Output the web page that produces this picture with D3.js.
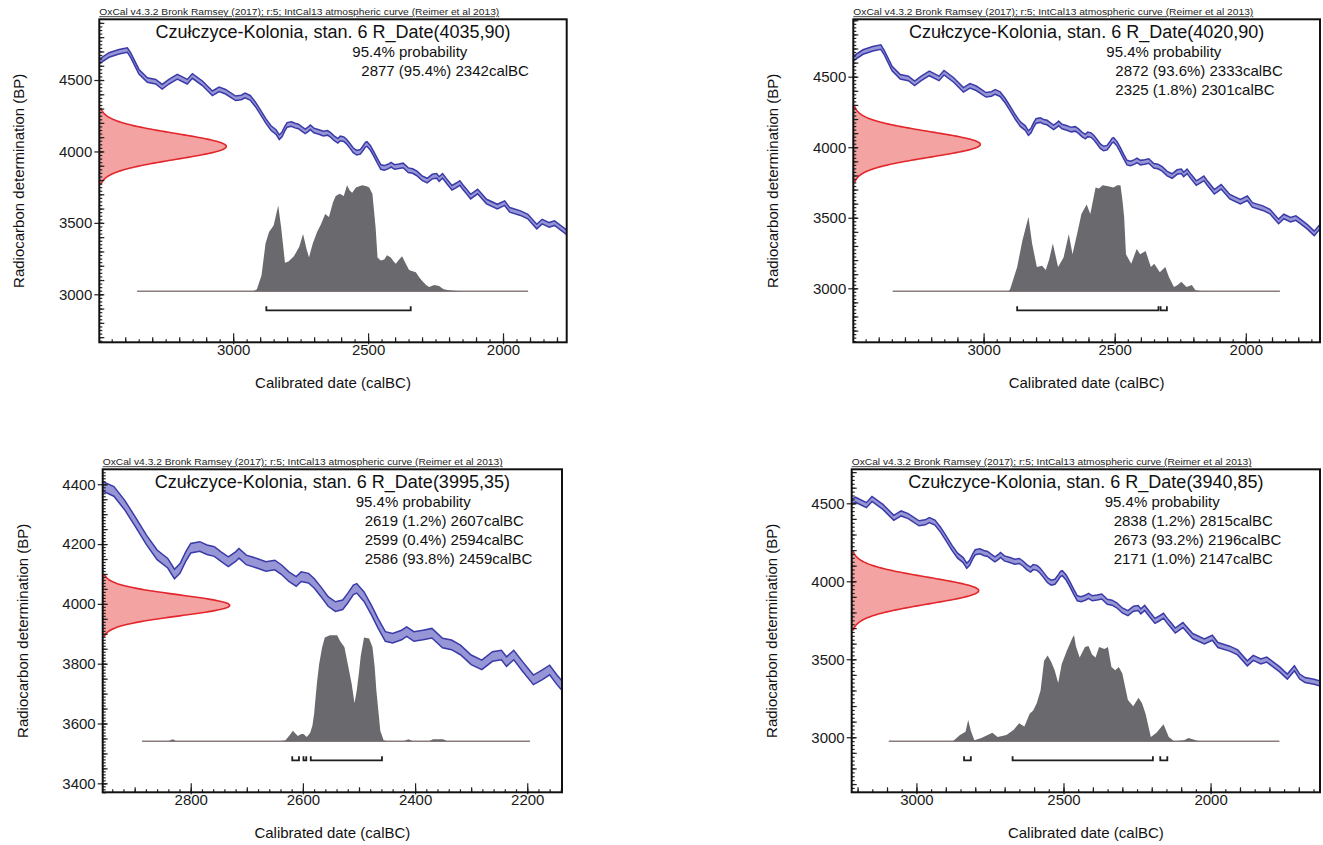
<!DOCTYPE html>
<html><head><meta charset="utf-8">
<script src="https://cdn.jsdelivr.net/npm/d3@7"></script>
<style>
body{margin:0;background:#fff;}
svg{display:block;font-family:"Liberation Sans",Arial,Helvetica,sans-serif;}
</style></head><body>
<svg id="chart" width="1323" height="845"></svg>
<script>
// ---------- DATA ----------
// IntCal13 calibration curve (calBC, BP)
const curveCalBC = [3500,3460,3423,3392,3380,3349,3318,3287,3263,3238,3207,3170,3151,3114,3077,3052,3028,2991,2970,2956,2937,2918,2899,2879,2860,2841,2829,2819,2809,2800,2784,2771,2758,2746,2733,2720,2714,2701,2682,2666,2650,2638,2625,2612,2603,2590,2580,2568,2555,2542,2529,2520,2510,2504,2491,2478,2466,2453,2440,2424,2415,2402,2386,2370,2351,2335,2319,2300,2281,2262,2246,2237,2224,2208,2189,2173,2160,2147,2135,2120,2094,2061,2021,1994,1975,1935,1908,1875,1855,1829,1809,1792,1765,1739,1715,1697,1679,1648,1620];
const curveBP    = [4625,4675,4698,4710,4675,4558,4500,4488,4453,4488,4523,4488,4528,4477,4407,4435,4418,4372,4378,4392,4376,4331,4275,4214,4164,4136,4100,4119,4158,4186,4192,4181,4175,4158,4141,4158,4169,4147,4136,4125,4130,4114,4091,4075,4091,4086,4069,4041,4008,3991,3997,4019,4047,4052,4024,3980,3935,3891,3885,3896,3907,3891,3896,3902,3869,3863,3846,3813,3796,3824,3829,3807,3829,3790,3746,3763,3779,3746,3720,3684,3719,3649,3614,3638,3591,3568,3544,3474,3509,3486,3498,3474,3435,3389,3442,3389,3367,3356,3340];
const curveSigma = 16;

// R_Date measurements
const rDateMean  = [4035, 4020, 3995, 3940];
const rDateSigma = [90, 90, 35, 85];

// Calibrated probability distributions (calBC, relative probability)
const hist1Year = [2925,2912,2895,2880,2867,2850,2833,2822,2808,2795,2775,2755,2741,2728,2719,2705,2689,2675,2659,2645,2630,2620,2605,2590,2578,2568,2559,2545,2522,2505,2496,2484,2472,2465,2453,2440,2430,2416,2405,2397,2385,2374,2362,2348,2335,2323,2310,2300,2285,2274,2255,2237,2220,2200,2180,2150];
const hist1Prob = [0,0.02,0.15,0.45,0.56,0.62,0.81,0.6,0.27,0.28,0.33,0.42,0.54,0.40,0.32,0.45,0.56,0.63,0.73,0.70,0.84,0.90,0.92,0.90,1.0,0.95,0.93,0.98,1.0,0.99,0.98,0.92,0.60,0.32,0.29,0.30,0.34,0.32,0.28,0.26,0.30,0.33,0.27,0.20,0.19,0.18,0.13,0.10,0.06,0.04,0.06,0.05,0.02,0.01,0.005,0];
const hist2Year = [2905,2899,2872,2852,2829,2815,2797,2777,2763,2750,2736,2716,2695,2675,2661,2641,2627,2607,2593,2573,2560,2546,2525,2505,2490,2478,2470,2464,2457,2437,2416,2403,2382,2362,2349,2328,2307,2294,2274,2260,2246,2226,2206,2192,2165];
const hist2Prob = [0,0.02,0.23,0.48,0.70,0.45,0.23,0.24,0.20,0.30,0.45,0.23,0.32,0.54,0.35,0.57,0.73,0.82,0.73,0.98,0.97,1.0,0.99,0.98,1.0,1.0,0.85,0.70,0.35,0.26,0.40,0.35,0.38,0.23,0.26,0.18,0.23,0.14,0.04,0.06,0.09,0.04,0.06,0.01,0];
const hist3Year = [2840,2832,2826,2640,2631,2622,2618,2609,2603,2599,2593,2587,2583,2580,2575,2571,2566,2561,2552,2545,2539,2533,2526,2520,2513,2508,2504,2500,2497,2491,2482,2476,2472,2469,2462,2456,2450,2420,2412,2404,2375,2368,2350,2343];
const hist3Prob = [0,0.02,0,0,0.01,0.07,0.10,0.05,0.07,0.07,0.04,0.08,0.15,0.26,0.55,0.73,0.88,0.98,1.0,1.0,1.0,0.94,0.89,0.73,0.54,0.36,0.48,0.65,0.80,0.98,0.97,0.89,0.70,0.48,0.10,0.01,0,0,0.02,0,0,0.02,0.02,0];
const hist4Year = [2876,2852,2833,2824,2815,2803,2779,2742,2724,2694,2669,2651,2633,2615,2603,2591,2578,2566,2554,2542,2530,2518,2506,2488,2469,2464,2458,2445,2427,2415,2403,2391,2379,2361,2349,2337,2324,2312,2300,2281,2263,2245,2233,2221,2203,2184,2160,2142,2124,2090,2075,2050,2039];
const hist4Prob = [0,0.06,0.09,0.2,0.1,0.01,0.03,0.08,0.04,0.06,0.11,0.17,0.14,0.26,0.29,0.36,0.48,0.76,0.81,0.75,0.67,0.55,0.73,0.86,0.98,1.0,0.90,0.79,0.89,0.90,0.82,0.79,0.89,0.87,0.89,0.70,0.67,0.70,0.64,0.39,0.33,0.41,0.36,0.26,0.04,0.08,0.16,0.04,0,0.01,0.03,0.01,0];
// extent of the calibrated distribution baseline (calBC)
const histBaseFrom = [3356, 3347, 2887, 3094];
const histBaseTo   = [1907, 1870, 2195, 1766];

// 95.4% ranges
const range1From = [2877], range1To = [2342], range1Pct = ["95.4%"];
const range2From = [2872, 2325], range2To = [2333, 2301], range2Pct = ["93.6%", "1.8%"];
const range3From = [2619, 2599, 2586], range3To = [2607, 2594, 2459], range3Pct = ["1.2%", "0.4%", "93.8%"];
const range4From = [2838, 2673, 2171], range4To = [2815, 2196, 2147], range4Pct = ["1.2%", "93.2%", "1.0%"];

// axis ticks
const yTicksA = [3000, 3500, 4000, 4500];
const xTicksA = [3000, 2500, 2000];
const yTicks3 = [3400, 3600, 3800, 4000, 4200, 4400];
const xTicks3 = [2800, 2600, 2400, 2200];

const siteName = "Czułczyce-Kolonia, stan. 6";
const oxcalNote = "OxCal v4.3.2 Bronk Ramsey (2017); r:5; IntCal13 atmospheric curve (Reimer et al 2013)";

// ---------- LAYOUT ----------
const panels = [
  {frame:[99.3,19.3,566.7,342.3], xd:[3496,1764], yd:[2664,4925], xt:xTicksA, yt:yTicksA, xMin:[50,100], yMin:[25,100],
   hy:hist1Year, hp:hist1Prob, rf:range1From, rt:range1To, rp:range1Pct},
  {frame:[853.3,19.3,1320,342.3], xd:[3497,1717], yd:[2617,4907], xt:xTicksA, yt:yTicksA, xMin:[50,100], yMin:[25,100],
   hy:hist2Year, hp:hist2Prob, rf:range2From, rt:range2To, rp:range2Pct},
  {frame:[102.7,469.3,562,792.3], xd:[2957,2138], yd:[3370,4450], xt:xTicks3, yt:yTicks3, xMin:[20,100], yMin:[10,50],
   hy:hist3Year, hp:hist3Prob, rf:range3From, rt:range3To, rp:range3Pct},
  {frame:[851.7,469.3,1320,792.3], xd:[3220,1628], yd:[2647,4718], xt:xTicksA, yt:yTicksA, xMin:[50,100], yMin:[25,100],
   hy:hist4Year, hp:hist4Prob, rf:range4From, rt:range4To, rp:range4Pct}
];

const svg = d3.select("#chart");
const defs = svg.append("defs");

panels.forEach((p, pi) => {
  const [L, T, R, B] = p.frame;
  const x = d3.scaleLinear().domain(p.xd).range([L, R]);
  const y = d3.scaleLinear().domain(p.yd).range([B, T]);
  const g = svg.append("g");
  defs.append("clipPath").attr("id", "clip" + pi)
    .append("rect").attr("x", L).attr("y", T).attr("width", R - L).attr("height", B - T);
  const plot = g.append("g").attr("clip-path", `url(#clip${pi})`);

  // calibration curve band
  const idx = d3.range(curveCalBC.length);
  plot.append("path").datum(idx)
    .attr("d", d3.area().x(i => x(curveCalBC[i])).y0(i => y(curveBP[i] - curveSigma)).y1(i => y(curveBP[i] + curveSigma)))
    .attr("fill", "#9696d6");
  [1, -1].forEach(s => {
    plot.append("path").datum(idx)
      .attr("d", d3.line().x(i => x(curveCalBC[i])).y(i => y(curveBP[i] + s * curveSigma)))
      .attr("fill", "none").attr("stroke", "#3a3aa8").attr("stroke-width", 1.5);
  });

  // radiocarbon date (normal likelihood)
  const mu = rDateMean[pi], sd = rDateSigma[pi];
  const zs = d3.range(-3, 3.0001, 0.05);
  const w = d3.scaleLinear().domain([0, 1]).range([L, L + 127]);
  const redPts = zs.map(z => [w(Math.exp(-0.5 * z * z)), y(mu + z * sd)]);
  const redPath = "M" + w(0) + "," + y(mu - 3 * sd) + "L" + redPts.map(d => d.join(",")).join("L") + "L" + w(0) + "," + y(mu + 3 * sd) + "Z";
  plot.append("path").attr("d", redPath).attr("fill", "#f4a3a3").attr("stroke", "none");
  plot.append("path").attr("d", "M" + redPts.map(d => d.join(",")).join("L"))
    .attr("fill", "none").attr("stroke", "#e3262b").attr("stroke-width", 1.6);

  // calibrated distribution
  const yb = B - 51;
  const hs = d3.scaleLinear().domain([0, 1]).range([yb, yb - 106]);
  plot.append("line").attr("x1", x(histBaseFrom[pi])).attr("x2", x(histBaseTo[pi]))
    .attr("y1", yb).attr("y2", yb).attr("stroke", "#8a7c7a").attr("stroke-width", 1.6);
  plot.append("path").datum(d3.range(p.hy.length))
    .attr("d", d3.area().x(i => x(p.hy[i])).y0(yb).y1(i => hs(p.hp[i])))
    .attr("fill", "#6a6a6e");

  // range brackets
  const yBr = B - 32;
  p.rf.forEach((f, i) => {
    plot.append("path")
      .attr("d", `M${x(f)},${yBr - 4}V${yBr}H${x(p.rt[i])}V${yBr - 4}`)
      .attr("fill", "none").attr("stroke", "#1e1e1e").attr("stroke-width", 1.8);
  });

  // axes - minor ticks
  const ext = y.domain(), xext = x.domain();
  const yMinor = d3.range(Math.ceil(ext[0] / p.yMin[0]) * p.yMin[0], ext[1], p.yMin[0]);
  const yMid = yMinor.filter(v => v % p.yMin[1] === 0);
  const xLo = Math.min(...xext), xHi = Math.max(...xext);
  const xMinor = d3.range(Math.ceil(xLo / p.xMin[0]) * p.xMin[0], xHi, p.xMin[0]);
  const xMid = xMinor.filter(v => v % p.xMin[1] === 0);

  const ax = (gen) => g.append("g").call(gen).call(s => s.select(".domain").remove());
  ax(d3.axisLeft(y).tickValues(yMinor).tickSize(-3).tickFormat("")).attr("transform", `translate(${L},0)`);
  ax(d3.axisLeft(y).tickValues(yMid).tickSize(-5).tickFormat("")).attr("transform", `translate(${L},0)`);
  ax(d3.axisBottom(x).tickValues(xMinor).tickSize(-3).tickFormat("")).attr("transform", `translate(0,${B})`);
  ax(d3.axisBottom(x).tickValues(xMid).tickSize(-5).tickFormat("")).attr("transform", `translate(0,${B})`);

  const yAx = ax(d3.axisLeft(y).tickValues(p.yt).tickSize(5).tickPadding(2).tickFormat(d3.format("d")))
    .attr("transform", `translate(${L},0)`);
  yAx.selectAll(".tick line").attr("x1", 4);
  const xAx = ax(d3.axisBottom(x).tickValues(p.xt).tickSize(-9).tickPadding(2.5).tickFormat(d3.format("d")))
    .attr("transform", `translate(0,${B})`);
  xAx.selectAll(".tick line").attr("y1", 2);
  g.selectAll(".tick line").attr("stroke", "#222").attr("stroke-width", 1.2);
  [yAx, xAx].forEach(a => a.attr("font-size", 15).attr("font-family", null)
    .selectAll("text").attr("fill", "#1a1a1a"));

  // frame
  g.append("rect").attr("x", L).attr("y", T).attr("width", R - L).attr("height", B - T)
    .attr("fill", "none").attr("stroke", "#111").attr("stroke-width", 2);

  // texts
  g.append("text").attr("x", L).attr("y", T - 4).attr("font-size", 8.5)
    .attr("textLength", 400).attr("lengthAdjust", "spacingAndGlyphs")
    .attr("text-decoration", "underline").attr("fill", "#222").text(oxcalNote);
  g.append("text").attr("x", (L + R) / 2).attr("y", T + 19).attr("text-anchor", "middle")
    .attr("font-size", 18).attr("fill", "#111").text(`${siteName} R_Date(${mu},${sd})`);
  g.append("text").attr("x", L + 253).attr("y", T + 38).attr("font-size", 15).attr("fill", "#111")
    .text("95.4% probability");
  p.rf.forEach((f, i) => {
    g.append("text").attr("x", L + 262).attr("y", T + 57 + 19 * i).attr("font-size", 15).attr("fill", "#111")
      .text(`${f} (${p.rp[i]}) ${p.rt[i]}calBC`);
  });
  g.append("text").attr("transform", `translate(${L - 75},${(T + B) / 2}) rotate(-90)`)
    .attr("text-anchor", "middle").attr("font-size", 15).attr("fill", "#111")
    .text("Radiocarbon determination (BP)");
  g.append("text").attr("x", (L + R) / 2).attr("y", B + 46).attr("text-anchor", "middle")
    .attr("font-size", 15).attr("fill", "#111").text("Calibrated date (calBC)");
});
</script>
</body></html>
